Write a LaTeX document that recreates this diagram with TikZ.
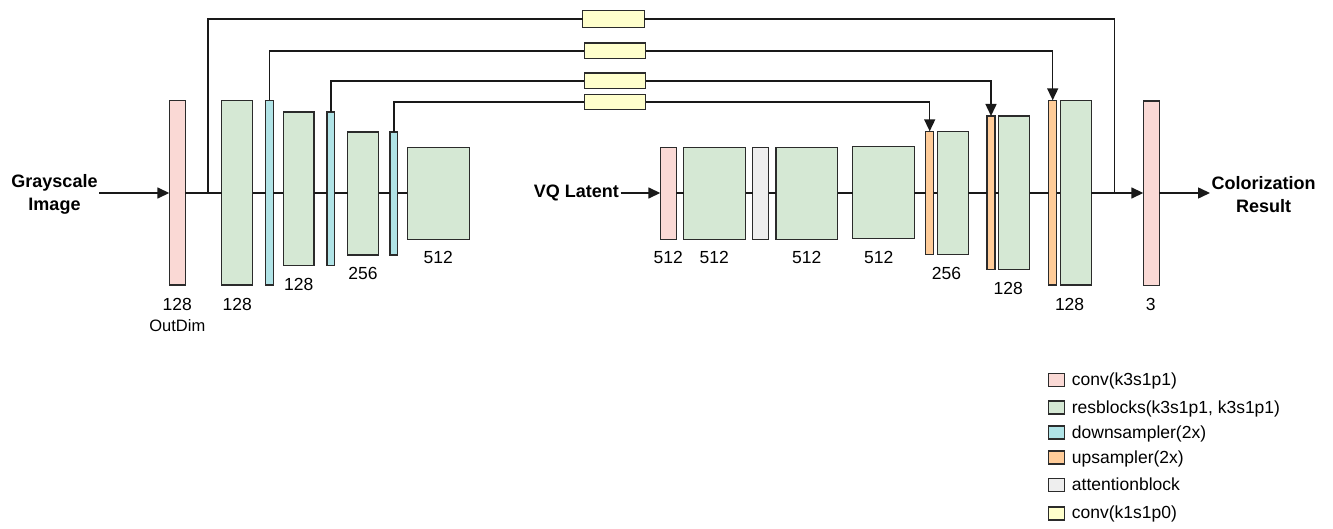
\documentclass[tikz,border=0pt]{standalone}
\usepackage{fontspec}
\setmainfont{Liberation Sans}
\usetikzlibrary{arrows.meta}
\definecolor{cpink}{HTML}{FAD9D5}
\definecolor{cgreen}{HTML}{D5E8D4}
\definecolor{ccyan}{HTML}{B0E3E6}
\definecolor{corange}{HTML}{FFCC99}
\definecolor{cgray}{HTML}{EEEEEE}
\definecolor{cyell}{HTML}{FFFFCC}
\definecolor{cedge}{HTML}{2B2B2B}
\begin{document}
\begin{tikzpicture}[x=1pt,y=-1pt,
  blk/.style={draw=cedge,line width=1.4pt,inner sep=0pt,outer sep=0pt},
  sz/.style 2 args={minimum width=#1pt,minimum height=#2pt},
  pinkb/.style={blk,fill=cpink},
  greenb/.style={blk,fill=cgreen},
  cyanb/.style={blk,fill=ccyan},
  orangeb/.style={blk,fill=corange},
  grayb/.style={blk,fill=cgray},
  yellb/.style={blk,fill=cyell},
  wire/.style={line width=1.5pt,draw=black!90},
  arr/.style={wire,-{Triangle[length=12pt,width=11pt]}},
  num/.style={font=\fontsize{17.5}{21}\selectfont,inner sep=0pt},
  small/.style={font=\fontsize{16.5}{20}\selectfont,inner sep=0pt},
  io/.style={font=\bfseries\fontsize{18}{23}\selectfont,align=center,inner sep=1.5pt},
  legtext/.style={font=\fontsize{17.5}{21}\selectfont,inner sep=0pt,anchor=base west},
]
\useasboundingbox (0,0) rectangle (1333,529);
\coordinate (ml) at (0,193);

% encoder
\node[pinkb,sz={16}{184.7}] (p1) at (177.3,192.7) {};
\node[greenb,sz={31}{184.7}] (g1) at (237.2,192.7) {};
\node[cyanb,sz={7.6}{184.7}] (c1) at (269.5,192.7) {};
\node[greenb,sz={30.7}{153.7}] (g2) at (298.65,188.85) {};
\node[cyanb,sz={7.7}{153.7}] (c2) at (330.85,188.85) {};
\node[greenb,sz={31}{123}] (g3) at (363.2,193.5) {};
\node[cyanb,sz={7.7}{123}] (c3) at (393.85,193.5) {};
\node[greenb,sz={62}{92}] (g4) at (438.3,193.3) {};

% decoder
\node[pinkb,sz={16}{92}] (p2) at (668.3,193.3) {};
\node[greenb,sz={62}{92}] (g5) at (714.7,193.3) {};
\node[grayb,sz={16}{92}] (ga) at (760.7,193.3) {};
\node[greenb,sz={61.7}{92}] (g6) at (806.85,193.3) {};
\node[greenb,sz={61.6}{92}] (g7) at (883.5,192.7) {};
\node[orangeb,sz={8}{123}] (o1) at (929.7,192.8) {};
\node[greenb,sz={31}{123}] (g8) at (952.8,192.8) {};
\node[orangeb,sz={8}{153.3}] (o2) at (991,192.65) {};
\node[greenb,sz={31}{153.3}] (g9) at (1014.2,192.65) {};
\node[orangeb,sz={8}{184.7}] (o3) at (1052.7,192.65) {};
\node[greenb,sz={31}{184.7}] (g10) at (1075.8,192.65) {};
\node[pinkb,sz={16}{184.7}] (p3) at (1151.3,193.3) {};

% skip convs
\node[yellb,sz={61.6}{16.7}] (y1) at (613.5,19) {};
\node[yellb,sz={61.4}{15.7}] (y2) at (615,50.8) {};
\node[yellb,sz={61.4}{15.7}] (y3) at (615,80.8) {};
\node[yellb,sz={61.4}{15.4}] (y4) at (615,102) {};

% io labels
\node[io] (gi) at (54.5,194.5) {Grayscale\\Image};
\node[io,anchor=east] (vq) at (620.5,193) {VQ Latent};
\node[io,anchor=west] (cr) at (1210,194.5) {Colorization\\Result};

% main line encoder
\draw[arr] (gi.east |- ml) -- (p1.west |- ml);
\coordinate (s1) at (208,193);
\draw[wire] (p1.east |- ml) -- (g1.west |- ml);
\draw[wire] (g1.east |- ml) -- (c1.west |- ml);
\draw[wire] (c1.east |- ml) -- (g2.west |- ml);
\draw[wire] (g2.east |- ml) -- (c2.west |- ml);
\draw[wire] (c2.east |- ml) -- (g3.west |- ml);
\draw[wire] (g3.east |- ml) -- (c3.west |- ml);
\draw[wire] (c3.east |- ml) -- (g4.west |- ml);

% main line decoder
\draw[arr] (vq.east |- ml) -- (p2.west |- ml);
\draw[wire] (p2.east |- ml) -- (g5.west |- ml);
\draw[wire] (g5.east |- ml) -- (ga.west |- ml);
\draw[wire] (ga.east |- ml) -- (g6.west |- ml);
\draw[wire] (g6.east |- ml) -- (g7.west |- ml);
\draw[wire] (g7.east |- ml) -- (o1.west |- ml);
\draw[wire] (o1.east |- ml) -- (g8.west |- ml);
\draw[wire] (g8.east |- ml) -- (o2.west |- ml);
\draw[wire] (o2.east |- ml) -- (g9.west |- ml);
\draw[wire] (g9.east |- ml) -- (o3.west |- ml);
\draw[wire] (o3.east |- ml) -- (g10.west |- ml);
\draw[arr] (g10.east |- ml) -- (p3.west |- ml);
\draw[arr] (p3.east |- ml) -- (cr.west |- ml);

% skip connections
\coordinate (m1) at (1114.3,193);
\draw[wire] (s1) |- (y1.west);
\draw[wire] (y1.east) -| (m1);
\draw[wire] (c1.north) |- (y2.west);
\draw[arr] (y2.east) -| (o3.north);
\draw[wire] (c2.north) |- (y3.west);
\draw[arr] (y3.east) -| (o2.north);
\draw[wire] (c3.north) |- (y4.west);
\draw[arr] (y4.east) -| (o1.north);

% channel labels
\node[num] (l1) at (177.3,304) {128};
\node[small] (l1b) at (177.3,326) {OutDim};
\node[num] (l2) at (237.2,304) {128};
\node[num] (l3) at (298.7,284) {128};
\node[num] (l4) at (363,273.7) {256};
\node[num] (l5) at (438.3,257.7) {512};
\node[num] (l6) at (668.3,257.7) {512};
\node[num] (l7) at (714.3,257.7) {512};
\node[num] (l8) at (806.7,257.7) {512};
\node[num] (l9) at (878.7,257.7) {512};
\node[num] (l10) at (946.5,273.7) {256};
\node[num] (l11) at (1008.3,288.7) {128};
\node[num] (l12) at (1069.6,304) {128};
\node[num] (l13) at (1150.7,304) {3};

% legend
\node[pinkb,sz={16}{13}] (k1) at (1056.3,379.7) {};
\node[greenb,sz={16}{13}] (k2) at (1056.3,407.5) {};
\node[cyanb,sz={16}{13}] (k3) at (1056.3,432.5) {};
\node[orangeb,sz={16}{13}] (k4) at (1056.3,457.5) {};
\node[grayb,sz={16}{13}] (k5) at (1056.3,485) {};
\node[yellb,sz={16}{13}] (k6) at (1056.3,513.3) {};
\node[legtext] (t1) at (1071.7,385.2) {conv(k3s1p1)};
\node[legtext] (t2) at (1071.7,413) {resblocks(k3s1p1, k3s1p1)};
\node[legtext] (t3) at (1071.7,438) {downsampler(2x)};
\node[legtext] (t4) at (1071.7,463) {upsampler(2x)};
\node[legtext] (t5) at (1071.7,490.5) {attentionblock};
\node[legtext] (t6) at (1071.7,518.8) {conv(k1s1p0)};
\end{tikzpicture}
\end{document}
